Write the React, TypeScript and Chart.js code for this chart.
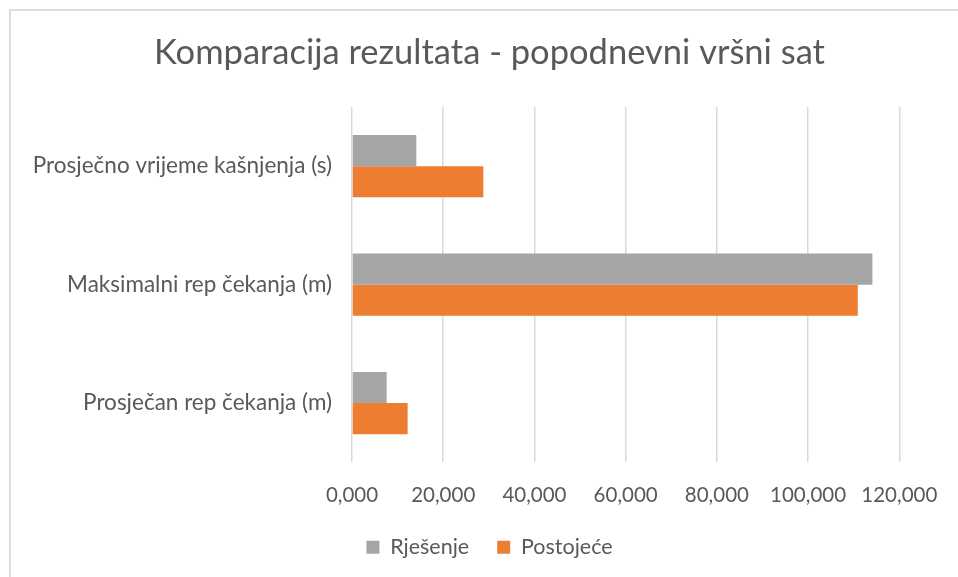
import React, { useEffect, useRef } from "react";
import { Chart, registerables } from "chart.js";

Chart.register(...registerables);

const categories = [
  "Prosječno vrijeme kašnjenja (s)",
  "Maksimalni rep čekanja (m)",
  "Prosječan rep čekanja (m)",
];
const seriesNames = ["Rješenje", "Postojeće"];
const rjesenje = [14.1, 114.1, 7.6];
const postojece = [28.8, 110.9, 12.2];
const axisMin = 0;
const axisMax = 120;
const axisStep = 20;
const titleText = "Komparacija rezultata - popodnevni vršni sat";

const FONT = "Lato, 'Open Sans', sans-serif";
const TEXT = "#595959";

const unclipYLabels = {
  id: "unclipYLabels",
  afterLayout(chart: any) {
    const y = chart.scales.y;
    if (y) y.left = 0;
  },
};

export default function App() {
  const ref = useRef<HTMLCanvasElement | null>(null);

  useEffect(() => {
    if (!ref.current) return;
    const chart = new Chart(ref.current, {
      type: "bar",
      data: {
        labels: categories,
        datasets: [
          {
            label: seriesNames[0],
            data: rjesenje,
            backgroundColor: "#a5a5a5",
            borderWidth: 0,
          },
          {
            label: seriesNames[1],
            data: postojece,
            backgroundColor: "#ed7d31",
            borderWidth: 0,
          },
        ],
      },
      plugins: [unclipYLabels],
      options: {
        indexAxis: "y",
        responsive: false,
        animation: false,
        devicePixelRatio: 1,
        layout: { padding: { left: 78, right: 57, top: 9, bottom: 9 } },
        datasets: {
          bar: { categoryPercentage: 0.525, barPercentage: 1 },
        },
        scales: {
          x: {
            min: axisMin,
            max: axisMax,
            ticks: {
              stepSize: axisStep,
              color: TEXT,
              font: { family: FONT, size: 20.5 },
              padding: 20.7,
              callback: (v: any) => Number(v).toFixed(3).replace(".", ","),
              maxRotation: 0,
            },
            grid: {
              color: "#d9d9d9",
              lineWidth: 1.5,
              drawTicks: false,
            },
            border: { display: false },
            afterFit: (scale: any) => {
              scale.height = 46.25;
            },
          },
          y: {
            ticks: {
              color: TEXT,
              font: { family: FONT, size: 22.5 },
              padding: 20,
            },
            grid: { display: false, drawTicks: false },
            border: { display: false },
            afterFit: (scale: any) => {
              scale.width = 352 - 78;
            },
          },
        },
        plugins: {
          title: {
            display: true,
            text: titleText,
            color: TEXT,
            font: { family: FONT, size: 34.5, weight: "normal" },
            padding: { top: 23.3, bottom: 33.3 },
          },
          legend: {
            position: "bottom",
            labels: {
              color: TEXT,
              font: { family: FONT, size: 21.5 },
              boxWidth: 13,
              boxHeight: 13,
              padding: 28,
            },
          },
          tooltip: { enabled: false },
        },
      },
    });
    return () => chart.destroy();
  }, []);

  return (
    <div
      style={{
        position: "fixed",
        left: 0,
        top: 0,
        width: 958,
        height: 577,
        overflow: "hidden",
        background: "#fff",
      }}
    >
      <div
        style={{
          position: "absolute",
          left: 9,
          top: 9,
          width: 1200,
          height: 1200,
          border: "2px solid #dedede",
          boxSizing: "border-box",
        }}
      />
      <canvas
        ref={ref}
        width={958}
        height={577}
        style={{ position: "absolute", left: 0, top: 0, width: 958, height: 577 }}
      />
    </div>
  );
}
